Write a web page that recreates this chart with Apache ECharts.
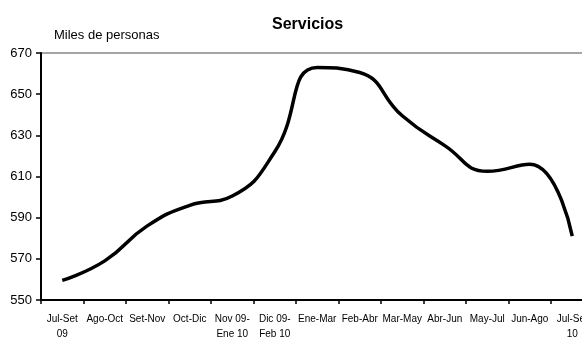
<!DOCTYPE html>
<html>
<head>
<meta charset="utf-8">
<script src="https://cdn.jsdelivr.net/npm/echarts@6/dist/echarts.min.js"></script>
<style>
html,body{margin:0;padding:0;background:#fff;}
#chart{width:582px;height:341px;}
</style>
</head>
<body>
<div id="chart"></div>
<script>
// periodos moviles de tres meses
var categorias = ['Jul-Set\n09','Ago-Oct','Set-Nov','Oct-Dic','Nov 09-\nEne 10','Dic 09-\nFeb 10','Ene-Mar','Feb-Abr','Mar-May','Abr-Jun','May-Jul','Jun-Ago','Jul-Set\n10'];
// miles de personas ocupadas en servicios
var servicios = [559.5, 569, 586, 596, 600.5, 622, 663, 660.5, 639.5, 625, 612.5, 616, 581];
var ticksY = [550, 570, 590, 610, 630, 650, 670];

var myChart = echarts.init(document.getElementById('chart'));
var option = {
    animation: false,
    backgroundColor: '#fff',
    title: {
        text: 'Servicios',
        left: 267,
        top: 12,
        textStyle: {fontFamily: 'Liberation Sans', fontSize: 16, fontWeight: 'bold', color: '#000'}
    },
    graphic: [{
        type: 'text',
        left: 54,
        top: 29,
        style: {text: 'Miles de personas', font: '13px "Liberation Sans"', fill: '#000'}
    }],
    grid: {
        left: 41,
        top: 53,
        bottom: 41,
        width: 552.5,
        outerBoundsMode: 'none',
        containLabel: false,
        show: true,
        borderColor: '#888',
        borderWidth: 1.5,
        backgroundColor: 'transparent'
    },
    xAxis: [{
        type: 'category',
        boundaryGap: true,
        data: categorias,
        axisLine: {lineStyle: {color: '#000', width: 2}},
        axisTick: {show: true, length: 4, inside: false, lineStyle: {color: '#000', width: 1.5}},
        axisLabel: {interval: 0, margin: 12, fontFamily: 'Liberation Sans', fontSize: 10, lineHeight: 15, color: '#000', hideOverlap: false},
        splitLine: {show: false}
    }],
    yAxis: [{
        type: 'value',
        min: ticksY[0],
        max: ticksY[ticksY.length - 1],
        interval: 20,
        axisLine: {show: true, lineStyle: {color: '#000', width: 2}},
        axisTick: {show: true, length: 5, lineStyle: {color: '#000', width: 1.5}},
        axisLabel: {margin: 9, fontFamily: 'Liberation Sans', fontSize: 13, color: '#000'},
        splitLine: {show: false}
    }],
    series: [{
        name: 'Servicios',
        type: 'line',
        smooth: 0.5,
        showSymbol: false,
        data: servicios,
        lineStyle: {color: '#000', width: 3.5}
    }]
};
myChart.setOption(option);
</script>
</body>
</html>
